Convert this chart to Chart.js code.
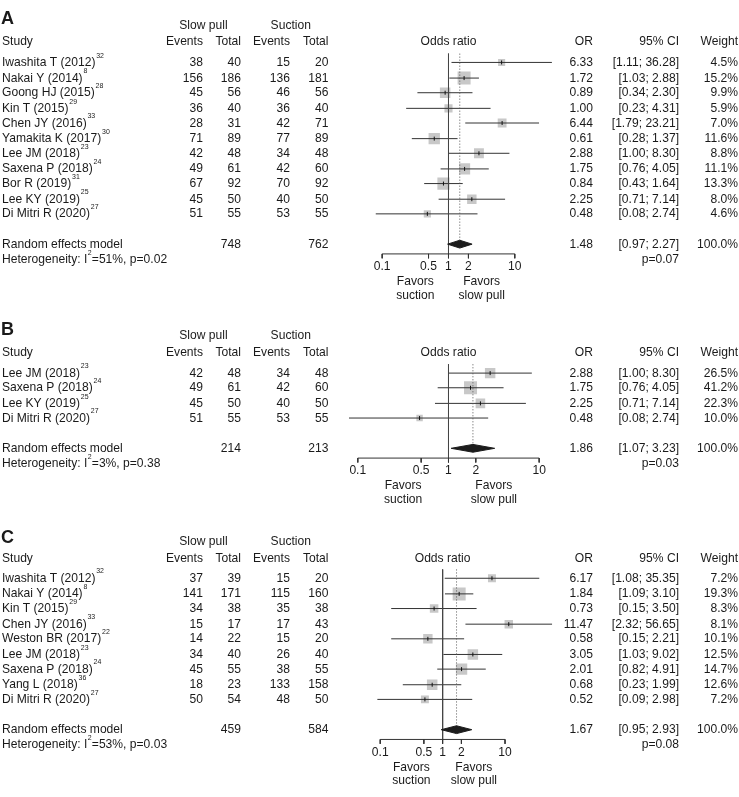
<!DOCTYPE html>
<html><head><meta charset="utf-8">
<script src="https://cdn.jsdelivr.net/npm/chart.js@4.4.1/dist/chart.umd.min.js"></script>
<style>html,body{margin:0;padding:0;background:#fff;}canvas{display:block}</style>
</head><body>
<canvas id="c" width="739" height="797"></canvas>
<script>
// ---------- Panel A data ----------
const studiesA = ['Iwashita T (2012)','Nakai Y (2014)','Goong HJ (2015)','Kin T (2015)','Chen JY (2016)','Yamakita K (2017)','Lee JM (2018)','Saxena P (2018)','Bor R (2019)','Lee KY (2019)','Di Mitri R (2020)'];
const refsA = ['32','8','28','29','33','30','23','24','31','25','27'];
const evSlowA = [38,156,45,36,28,71,42,49,67,45,51];
const totSlowA = [40,186,56,40,31,89,48,61,92,50,55];
const evSucA = [15,136,46,36,42,77,34,42,70,40,53];
const totSucA = [20,181,56,40,71,89,48,60,92,50,55];
const orA = [6.33,1.72,0.89,1.00,6.44,0.61,2.88,1.75,0.84,2.25,0.48];
const loA = [1.11,1.03,0.34,0.23,1.79,0.28,1.00,0.76,0.43,0.71,0.08];
const hiA = [36.28,2.88,2.30,4.31,23.21,1.37,8.30,4.05,1.64,7.14,2.74];
const wA = [4.5,15.2,9.9,5.9,7.0,11.6,8.8,11.1,13.3,8.0,4.6];
const pooledA = [1.48,0.97,2.27];
const totalsA = [748,762];
const hetA = ['51%','0.02'];
const pA = '0.07';

// ---------- Panel B data ----------
const studiesB = ['Lee JM (2018)','Saxena P (2018)','Lee KY (2019)','Di Mitri R (2020)'];
const refsB = ['23','24','25','27'];
const evSlowB = [42,49,45,51];
const totSlowB = [48,61,50,55];
const evSucB = [34,42,40,53];
const totSucB = [48,60,50,55];
const orB = [2.88,1.75,2.25,0.48];
const loB = [1.00,0.76,0.71,0.08];
const hiB = [8.30,4.05,7.14,2.74];
const wB = [26.5,41.2,22.3,10.0];
const pooledB = [1.86,1.07,3.23];
const totalsB = [214,213];
const hetB = ['3%','0.38'];
const pB = '0.03';

// ---------- Panel C data ----------
const studiesC = ['Iwashita T (2012)','Nakai Y (2014)','Kin T (2015)','Chen JY (2016)','Weston BR (2017)','Lee JM (2018)','Saxena P (2018)','Yang L (2018)','Di Mitri R (2020)'];
const refsC = ['32','8','29','33','22','23','24','36','27'];
const evSlowC = [37,141,34,15,14,34,45,18,50];
const totSlowC = [39,171,38,17,22,40,55,23,54];
const evSucC = [15,115,35,17,15,26,38,133,48];
const totSucC = [20,160,38,43,20,40,55,158,50];
const orC = [6.17,1.84,0.73,11.47,0.58,3.05,2.01,0.68,0.52];
const loC = [1.08,1.09,0.15,2.32,0.15,1.03,0.82,0.23,0.09];
const hiC = [35.35,3.10,3.50,56.65,2.21,9.02,4.91,1.99,2.98];
const wC = [7.2,19.3,8.3,8.1,10.1,12.5,14.7,12.6,7.2];
const pooledC = [1.67,0.95,2.93];
const totalsC = [459,584];
const hetC = ['53%','0.03'];
const pC = '0.08';

// ---------- axis ticks ----------
const axisTicks = [0.1,0.5,1,2,10];
const axisTickLabels = ['0.1','0.5','1','2','10'];

// ---------- layout ----------
const W = 739, H = 797;
const ROWH = 15.5;
const FONT = '"Liberation Sans", Arial, Helvetica, sans-serif';
const FS = 13, SX = 0.93;
const panels = [
  {key:'A', T:33.3, letterY:10.5, px1:450.5, dec:68, st:studiesA, rf:refsA, e1:evSlowA, t1:totSlowA, e2:evSucA, t2:totSucA, or:orA, lo:loA, hi:hiA, w:wA, pooled:pooledA, tot:totalsA, het:hetA, p:pA},
  {key:'B', T:351, letterY:328.5, px1:450.5, dec:93, st:studiesB, rf:refsB, e1:evSlowB, t1:totSlowB, e2:evSucB, t2:totSucB, or:orB, lo:loB, hi:hiB, w:wB, pooled:pooledB, tot:totalsB, het:hetB, p:pB},
  {key:'C', T:561.7, letterY:541.5, px1:444.5, dec:64, st:studiesC, rf:refsC, e1:evSlowC, t1:totSlowC, e2:evSucC, t2:totSucC, or:orC, lo:loC, hi:hiC, w:wC, pooled:pooledC, tot:totalsC, het:hetC, p:pC},
];
const snap = v => Math.floor(v) + 0.5;
panels.forEach(p => {
  p.rows = p.st.map((_, i) => snap(p.T + 21.2 + i * ROWH));
  p.randY = snap(p.T + 21.2 + (p.st.length + 1) * ROWH);
  p.hetY = p.randY + ROWH;
  p.axisY = snap(p.randY + 10.3);
  p.topY = p.rows[0] - 9;
  p.xid = 'x' + p.key;
});

const LINE = '#333333';
const datasets = [];
const scales = {
  x: {display:false},
  y: {type:'linear', min:0, max:H, reverse:true, display:false, bounds:'data'}
};
panels.forEach(p => {
  scales[p.xid] = {type:'logarithmic', axis:'x', display:false, bounds:'data',
    min: Math.pow(10, -p.px1 / p.dec), max: Math.pow(10, (W - p.px1) / p.dec)};
  const wmax = Math.max(...p.w);
  datasets.push({type:'scatter', xAxisID:p.xid, order:6,
    data: p.or.map((v,i)=>({x:v, y:p.rows[i]})),
    pointStyle:'rect', pointRadius: p.w.map(w => 13 * Math.sqrt(w / wmax) / Math.SQRT2),
    pointBackgroundColor:'#c8c8c8', pointBorderWidth:0, pointBorderColor:'rgba(0,0,0,0)'});
  p.or.forEach((v,i) => {
    datasets.push({type:'line', xAxisID:p.xid, order:5,
      data:[{x:p.lo[i], y:p.rows[i]}, {x:p.hi[i], y:p.rows[i]}],
      borderColor:LINE, borderWidth:1, pointRadius:0, fill:false});
  });
  datasets.push({type:'scatter', xAxisID:p.xid, order:4,
    data: p.or.map((v,i)=>({x:v, y:p.rows[i]})),
    pointStyle:'line', rotation:90, pointRadius:2, pointBorderColor:'#111', pointBorderWidth:1});
  datasets.push({type:'line', xAxisID:p.xid, order:3,
    data:[{x:1, y:p.topY}, {x:1, y:p.axisY}], borderColor:'#444', borderWidth:1, pointRadius:0, fill:false});
  datasets.push({type:'line', xAxisID:p.xid, order:3,
    data:[{x:p.pooled[0], y:p.topY}, {x:p.pooled[0], y:p.randY - 4}], borderColor:'#555', borderWidth:1, borderDash:[1,2], pointRadius:0, fill:false});
  datasets.push({type:'line', xAxisID:p.xid, order:1,
    data:[{x:p.pooled[1], y:p.randY}, {x:p.pooled[0], y:p.randY-4}, {x:p.pooled[2], y:p.randY}, {x:p.pooled[0], y:p.randY+4}, {x:p.pooled[1], y:p.randY}],
    borderColor:'#1c1c1c', backgroundColor:'#1c1c1c', borderWidth:1, pointRadius:0, fill:'shape'});
  datasets.push({type:'line', xAxisID:p.xid, order:2,
    data:[{x:axisTicks[0], y:p.axisY}, {x:axisTicks[axisTicks.length-1], y:p.axisY}], borderColor:LINE, borderWidth:1, pointRadius:0, fill:false});
  axisTicks.forEach(t => {
    datasets.push({type:'line', xAxisID:p.xid, order:2,
      data:[{x:t, y:p.axisY}, {x:t, y:p.axisY + 4.5}], borderColor:LINE, borderWidth:1, pointRadius:0, fill:false});
  });
});

const textPlugin = {
  id:'forestText',
  beforeDraw(chart){
    const ctx = chart.ctx; ctx.save(); ctx.fillStyle='#fff'; ctx.fillRect(0,0,chart.width,chart.height); ctx.restore();
  },
  afterDraw(chart){
    const ctx = chart.ctx;
    const yS = chart.scales.y;
    ctx.save();
    ctx.fillStyle = '#1a1a1a';
    ctx.textBaseline = 'middle';
    const f = s => s + 'px ' + FONT;
    const txt = (s, x, y, align, size, bold, noScale) => {
      ctx.font = (bold ? 'bold ' : '') + f(size || FS);
      ctx.textAlign = align || 'left';
      ctx.save();
      ctx.translate(x, yS.getPixelForValue(y));
      if (!noScale) ctx.scale(SX, 1);
      ctx.fillText(s, 0, 0);
      ctx.restore();
    };
    const mw = (s, size) => { ctx.font = f(size || FS); return ctx.measureText(s).width * SX; };
    const COL = {e1:203, t1:241, e2:290, t2:328.5, or:593, ci:679, w:738};
    panels.forEach(p => {
      const xs = chart.scales[p.xid];
      txt(p.key, 1, p.letterY, 'left', 18, true, true);
      txt('Slow pull', (166 + 241) / 2, p.T - 17, 'center');
      txt('Suction', (253 + 328.5) / 2, p.T - 17, 'center');
      txt('Study', 2, p.T);
      txt('Events', COL.e1, p.T, 'right');
      txt('Total', COL.t1, p.T, 'right');
      txt('Events', COL.e2, p.T, 'right');
      txt('Total', COL.t2, p.T, 'right');
      txt('Odds ratio', xs.getPixelForValue(1), p.T, 'center');
      txt('OR', COL.or, p.T, 'right');
      txt('95% CI', COL.ci, p.T, 'right');
      txt('Weight', COL.w, p.T, 'right');
      p.st.forEach((s, i) => {
        const y = p.rows[i];
        txt(s, 2, y);
        const w = mw(s);
        txt(p.rf[i], 2 + w + 0.8, y - 7, 'left', 7.5);
        txt(String(p.e1[i]), COL.e1, y, 'right');
        txt(String(p.t1[i]), COL.t1, y, 'right');
        txt(String(p.e2[i]), COL.e2, y, 'right');
        txt(String(p.t2[i]), COL.t2, y, 'right');
        txt(p.or[i].toFixed(2), COL.or, y, 'right');
        txt('[' + p.lo[i].toFixed(2) + '; ' + p.hi[i].toFixed(2) + ']', COL.ci, y, 'right');
        txt(p.w[i].toFixed(1) + '%', COL.w, y, 'right');
      });
      txt('Random effects model', 2, p.randY);
      txt(String(p.tot[0]), COL.t1, p.randY, 'right');
      txt(String(p.tot[1]), COL.t2, p.randY, 'right');
      txt(p.pooled[0].toFixed(2), COL.or, p.randY, 'right');
      txt('[' + p.pooled[1].toFixed(2) + '; ' + p.pooled[2].toFixed(2) + ']', COL.ci, p.randY, 'right');
      txt('100.0%', COL.w, p.randY, 'right');
      const h1 = 'Heterogeneity: I';
      txt(h1, 2, p.hetY);
      let hx = 2 + mw(h1);
      txt('2', hx + 0.3, p.hetY - 7, 'left', 7.5);
      hx += mw('2', 7.5) + 0.6;
      txt('=' + p.het[0] + ', p=' + p.het[1], hx, p.hetY);
      txt('p=' + p.p, COL.ci, p.hetY, 'right');
      axisTicks.forEach((t, i) => {
        txt(axisTickLabels[i], xs.getPixelForValue(t), p.axisY + 13, 'center');
      });
      const lx = xs.getPixelForValue(Math.pow(10, -0.5));
      const rx = xs.getPixelForValue(Math.pow(10, 0.5));
      txt('Favors', lx, p.axisY + 28.3, 'center');
      txt('suction', lx, p.axisY + 42, 'center');
      txt('Favors', rx, p.axisY + 28.3, 'center');
      txt('slow pull', rx, p.axisY + 42, 'center');
    });
    ctx.restore();
  }
};

new Chart(document.getElementById('c'), {
  type:'scatter',
  data:{datasets},
  options:{
    responsive:false, devicePixelRatio:1, animation:false, events:[],
    layout:{padding:0},
    plugins:{legend:{display:false}, tooltip:{enabled:false}},
    scales
  },
  plugins:[textPlugin]
});
</script>
</body></html>
